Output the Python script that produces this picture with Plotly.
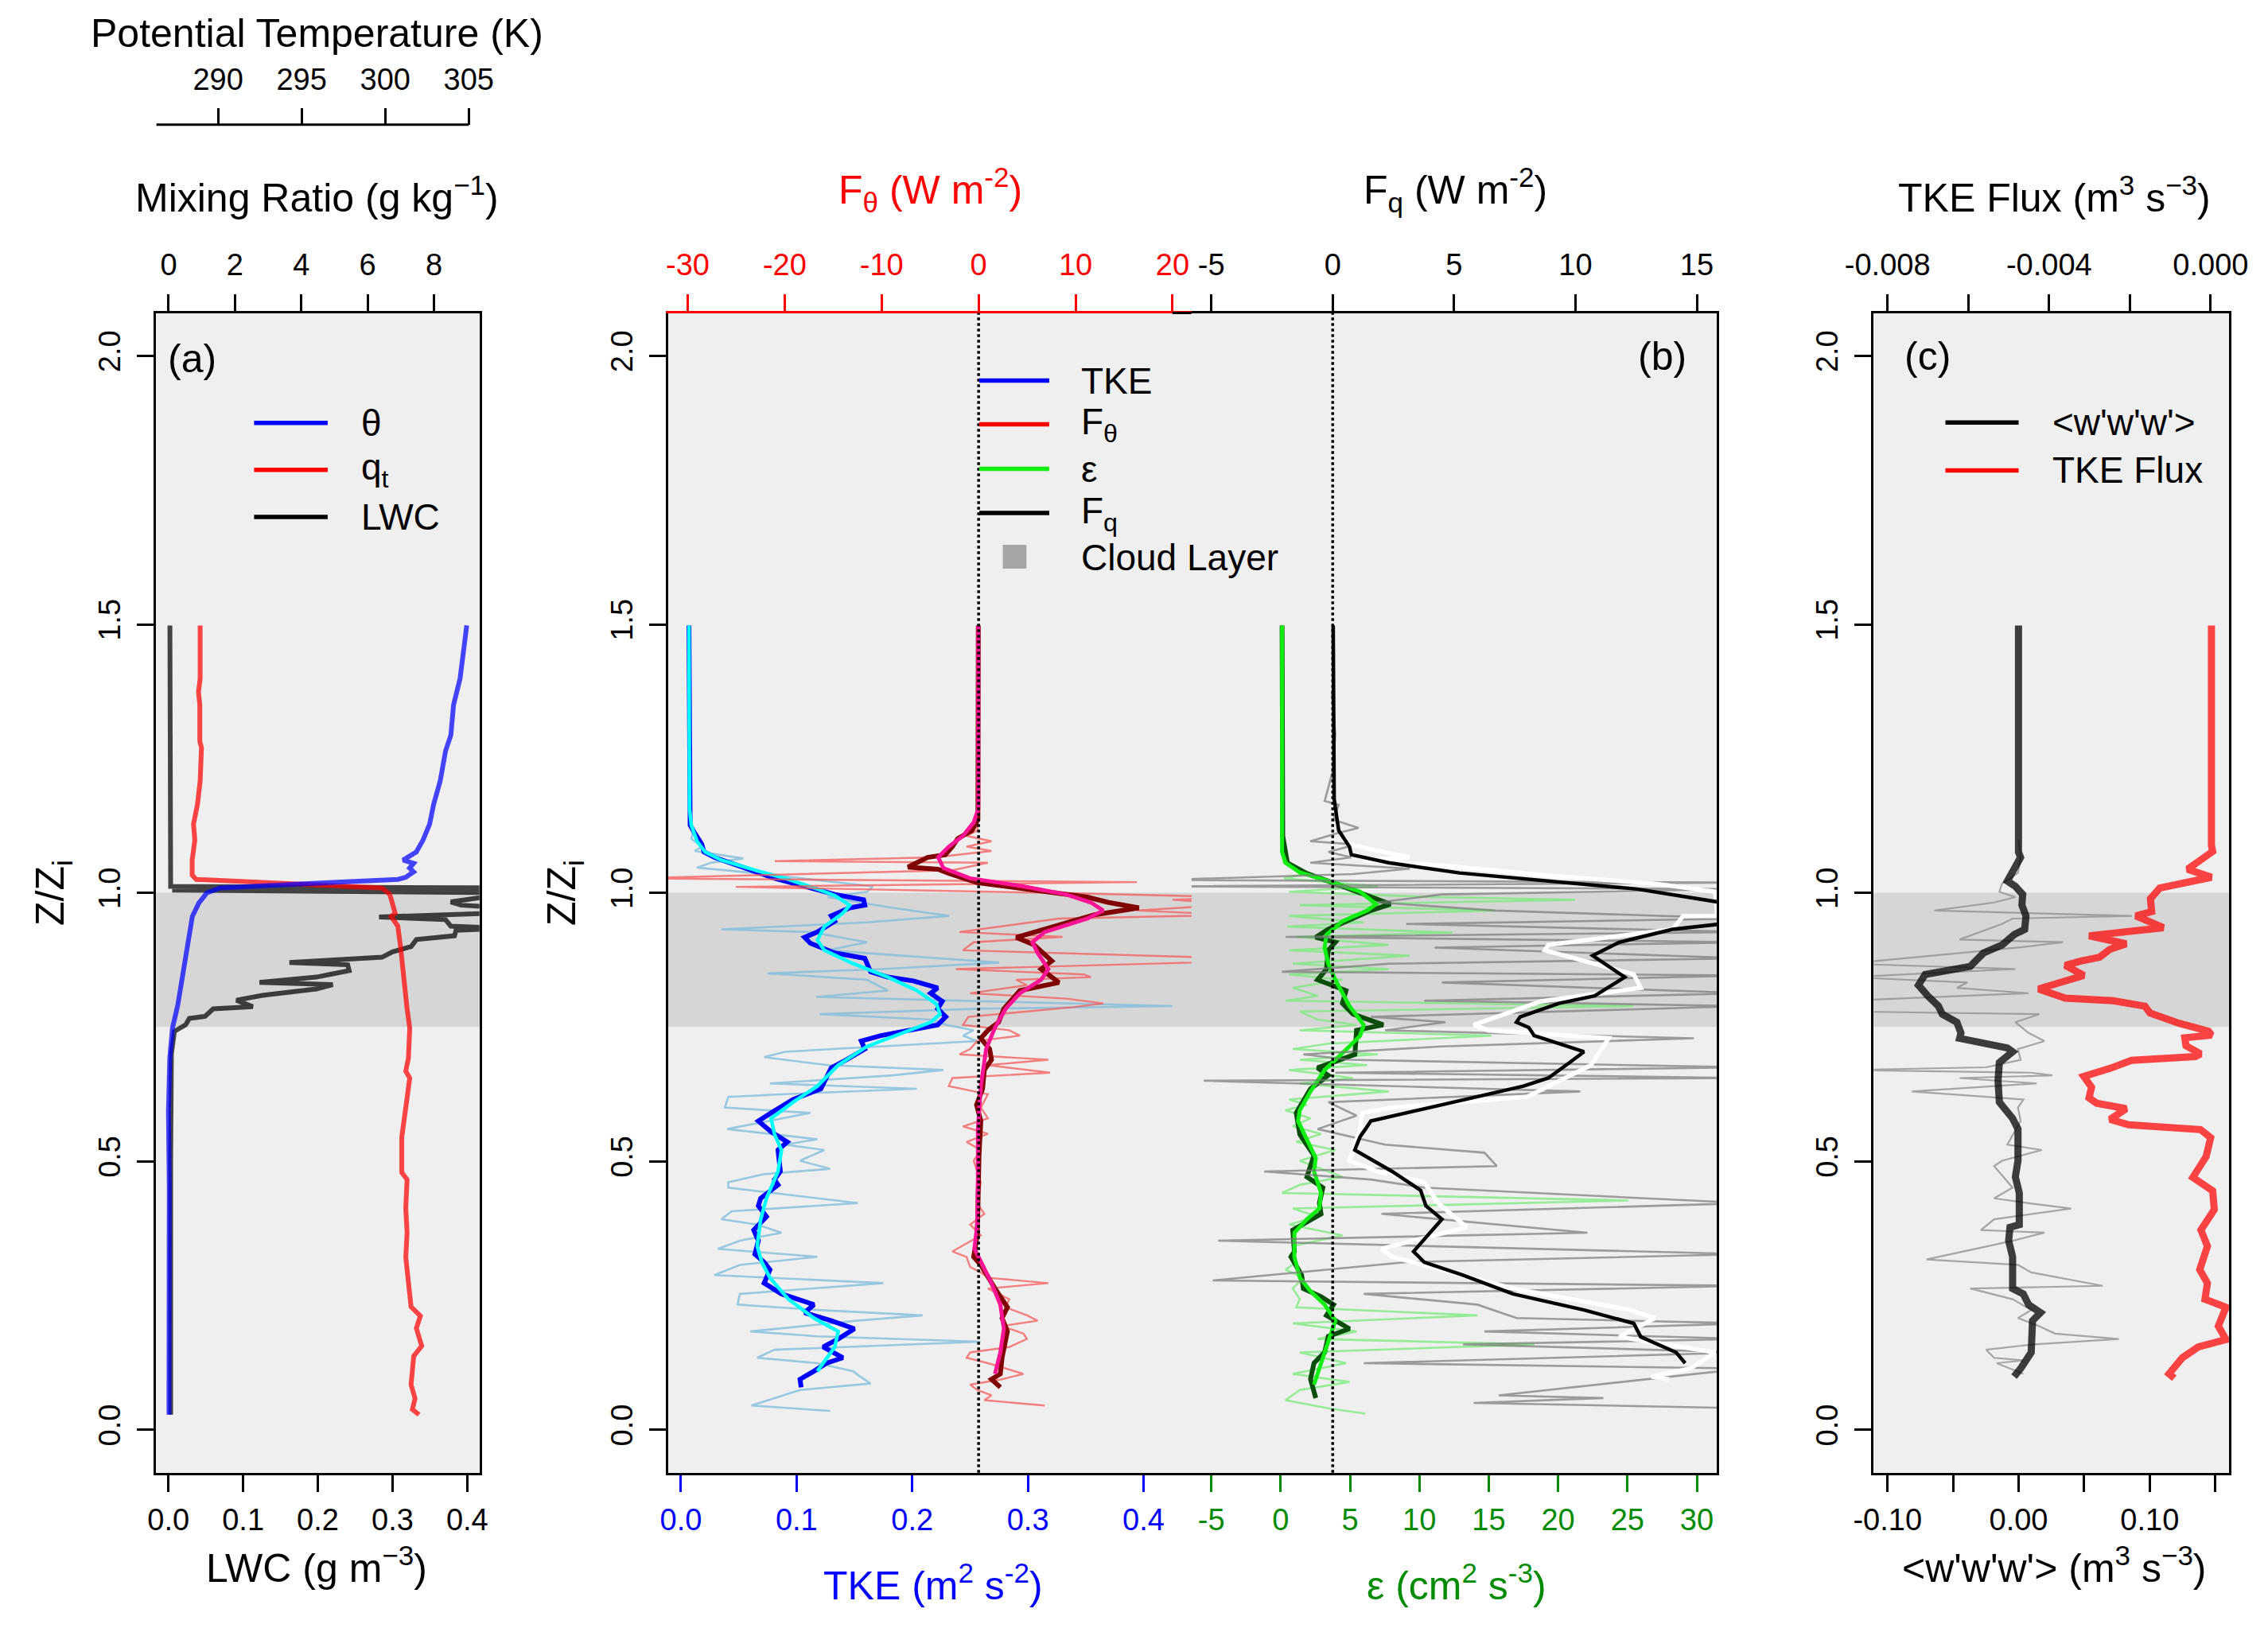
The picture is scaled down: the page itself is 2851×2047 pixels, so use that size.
import plotly.graph_objects as go

W, H = 2851, 2047


def fx(p):
    return p / W


def fy(p):
    return 1 - p / H


# ======================= DATA =======================
# ---- Panel (a): theta (K), qt (g/kg), LWC (g/m3) vs Z/Zi ----
theta_z = [1.498, 1.399, 1.350, 1.294, 1.264, 1.208, 1.165, 1.128, 1.098, 1.076,
           1.061, 1.055, 1.046, 1.039, 1.029, 1.025, 1.019, 1.013, 1.009, 1.000,
           0.981, 0.956, 0.938, 0.880, 0.791, 0.748, 0.692, 0.594, 0.45, 0.30,
           0.15, 0.028]
theta_k = [304.88, 304.48, 304.09, 303.93, 303.61, 303.29, 302.90, 302.66, 302.26, 301.86,
           301.07, 301.70, 301.46, 301.70, 301.23, 300.76, 296.63, 291.87, 290.12, 289.33,
           288.85, 288.46, 288.38, 288.06, 287.59, 287.27, 287.11, 287.03, 287.08, 287.06,
           287.08, 287.06]

qt_z = [1.498, 1.399, 1.374, 1.350, 1.282, 1.270, 1.208, 1.165, 1.128, 1.098,
        1.061, 1.033, 1.025, 1.018, 1.009, 0.997, 0.975, 0.962, 0.956, 0.938,
        0.901, 0.876, 0.827, 0.784, 0.748, 0.692, 0.668, 0.655, 0.618, 0.598,
        0.545, 0.479, 0.466, 0.413, 0.367, 0.321, 0.268, 0.229, 0.212, 0.189,
        0.156, 0.137, 0.084, 0.058, 0.038, 0.028]
qt_gkg = [0.95, 0.95, 0.90, 0.94, 0.94, 0.99, 0.95, 0.87, 0.75, 0.79,
          0.71, 0.71, 0.83, 3.23, 6.43, 6.67, 6.75, 6.83, 6.71, 6.91,
          6.99, 7.03, 7.11, 7.19, 7.27, 7.23, 7.15, 7.27, 7.19, 7.15,
          7.03, 7.03, 7.19, 7.15, 7.19, 7.15, 7.23, 7.31, 7.59, 7.47,
          7.63, 7.39, 7.31, 7.43, 7.35, 7.55]

lwc_z = [1.498, 1.012, 1.009, 1.005, 1.000, 0.983, 0.977, 0.972, 0.963, 0.955,
         0.950, 0.938, 0.934, 0.930, 0.920, 0.913, 0.900, 0.890, 0.880, 0.876,
         0.870, 0.866, 0.855, 0.848, 0.843, 0.833, 0.829, 0.821, 0.815, 0.809,
         0.800, 0.788, 0.784, 0.770, 0.766, 0.754, 0.742, 0.70, 0.50, 0.30,
         0.028]
lwc_gm3 = [0.002, 0.003, 0.46, 0.005, 0.46, 0.378, 0.392, 0.45, 0.45, 0.282,
           0.371, 0.378, 0.45, 0.385, 0.383, 0.332, 0.325, 0.300, 0.286, 0.240,
           0.162, 0.240, 0.242, 0.216, 0.198, 0.122, 0.220, 0.198, 0.162, 0.126,
           0.091, 0.113, 0.060, 0.049, 0.028, 0.023, 0.008, 0.004, 0.003, 0.003,
           0.003]

# ---- Panel (b) left: TKE (m2/s2) and F_theta (W/m2) ----
tke_raw_z = [1.136, 1.116, 1.101, 1.086, 1.078, 1.064, 1.056, 1.047, 1.037, 1.012,
             1.002, 0.992, 0.972, 0.957, 0.945, 0.932, 0.927, 0.908, 0.893, 0.870,
             0.858, 0.850, 0.838, 0.818, 0.806, 0.789, 0.784, 0.774, 0.764, 0.754,
             0.744, 0.734, 0.724, 0.704, 0.694, 0.679, 0.670, 0.660, 0.645, 0.635,
             0.625, 0.620, 0.600, 0.590, 0.560, 0.541, 0.531, 0.521, 0.501, 0.486,
             0.476, 0.461, 0.451, 0.431, 0.422, 0.407, 0.392, 0.382, 0.367, 0.352,
             0.337, 0.322, 0.307, 0.288, 0.273, 0.253, 0.233, 0.223, 0.213, 0.203,
             0.183, 0.174, 0.164, 0.149, 0.134, 0.124, 0.109, 0.099, 0.086, 0.074,
             0.045, 0.035]
tke_raw = [0.008, 0.011, 0.009, 0.018, 0.012, 0.054, 0.026, 0.014, 0.063, 0.166,
           0.161, 0.127, 0.183, 0.232, 0.161, 0.035, 0.112, 0.161, 0.127, 0.275,
           0.173, 0.075, 0.161, 0.179, 0.117, 0.425, 0.256, 0.120, 0.216, 0.230,
           0.253, 0.244, 0.256, 0.090, 0.072, 0.127, 0.227, 0.183, 0.077, 0.204,
           0.090, 0.041, 0.038, 0.112, 0.040, 0.118, 0.090, 0.124, 0.103, 0.129,
           0.072, 0.041, 0.041, 0.121, 0.153, 0.044, 0.035, 0.066, 0.087, 0.051,
           0.032, 0.118, 0.051, 0.029, 0.175, 0.051, 0.049, 0.118, 0.209, 0.152,
           0.060, 0.118, 0.259, 0.081, 0.066, 0.118, 0.149, 0.155, 0.164, 0.103,
           0.061, 0.129]

tke_med_z = [1.498, 1.136, 1.126, 1.111, 1.091, 1.076, 1.066, 1.027, 0.997, 0.987,
             0.977, 0.972, 0.957, 0.947, 0.927, 0.917, 0.906, 0.888, 0.878, 0.853,
             0.843, 0.836, 0.823, 0.813, 0.798, 0.784, 0.769, 0.754, 0.734, 0.724,
             0.709, 0.689, 0.674, 0.635, 0.615, 0.590, 0.575, 0.555, 0.536, 0.521,
             0.481, 0.466, 0.456, 0.431, 0.417, 0.397, 0.372, 0.352, 0.327, 0.312,
             0.298, 0.273, 0.253, 0.233, 0.218, 0.203, 0.188, 0.169, 0.154, 0.134,
             0.124, 0.109, 0.094, 0.079]
tke_med = [0.007, 0.0075, 0.008, 0.012, 0.018, 0.020, 0.029, 0.081, 0.133, 0.158,
           0.159, 0.146, 0.130, 0.133, 0.118, 0.107, 0.112, 0.133, 0.159, 0.164,
           0.179, 0.201, 0.222, 0.216, 0.226, 0.222, 0.229, 0.222, 0.173, 0.156,
           0.159, 0.143, 0.130, 0.121, 0.097, 0.078, 0.067, 0.078, 0.092, 0.084,
           0.086, 0.081, 0.084, 0.069, 0.067, 0.074, 0.063, 0.067, 0.064, 0.072,
           0.077, 0.072, 0.087, 0.115, 0.107, 0.130, 0.150, 0.136, 0.123, 0.140,
           0.126, 0.115, 0.103, 0.104]

tke_smooth_z = [1.498, 1.156, 1.126, 1.096, 1.076, 1.061, 1.041, 1.027, 1.007, 0.995,
                0.977, 0.962, 0.937, 0.912, 0.893, 0.868, 0.843, 0.818, 0.793, 0.774,
                0.759, 0.739, 0.714, 0.679, 0.640, 0.610, 0.580, 0.550, 0.521, 0.481,
                0.431, 0.392, 0.342, 0.312, 0.283, 0.243, 0.208, 0.183, 0.154, 0.109]
tke_smooth = [0.007, 0.0075, 0.009, 0.014, 0.021, 0.035, 0.066, 0.090, 0.118, 0.133,
              0.146, 0.140, 0.124, 0.118, 0.124, 0.149, 0.179, 0.204, 0.221, 0.224,
              0.216, 0.192, 0.161, 0.136, 0.118, 0.097, 0.078, 0.081, 0.087, 0.084,
              0.074, 0.069, 0.066, 0.070, 0.077, 0.093, 0.115, 0.136, 0.133, 0.118]

fth_raw_z = [1.126, 1.116, 1.106, 1.096, 1.086, 1.078, 1.066, 1.059, 1.056, 1.042,
             1.027, 1.020, 1.011, 0.999, 0.992, 0.987, 0.979, 0.967, 0.959, 0.952,
             0.927, 0.918, 0.908, 0.893, 0.878, 0.870, 0.858, 0.848, 0.843, 0.838,
             0.828, 0.813, 0.803, 0.794, 0.787, 0.769, 0.754, 0.744, 0.734, 0.724,
             0.709, 0.699, 0.689, 0.679, 0.665, 0.655, 0.640, 0.625, 0.600, 0.580,
             0.565, 0.551, 0.536, 0.521, 0.501, 0.461, 0.422, 0.402, 0.382, 0.362,
             0.332, 0.322, 0.303, 0.293, 0.283, 0.273, 0.263, 0.243, 0.228, 0.213,
             0.203, 0.193, 0.179, 0.169, 0.154, 0.144, 0.134, 0.124, 0.104, 0.094,
             0.084, 0.074, 0.064, 0.055, 0.045]
fth_raw = [-0.07, -0.14, -1.24, 1.33, -1.24, 1.33, -4.53, -21.02, 0.96, -2.70,
           -36.0, 16.34, -25.05, 10.1, 26.6, 20.0, 26.6, 16.34, 26.6, 8.28,
           -1.97, 8.65, -0.51, -1.61, 26.6, 21.84, -2.34, 10.85, 11.58, 3.89,
           4.99, -0.87, 9.02, 12.86, 9.75, -1.06, -1.61, 3.16, 4.26, -0.14,
           -0.87, -1.97, 7.19, 0.96, 7.37, -2.70, -3.07, 0.96, 0.23, 0.96,
           -1.61, 0.96, -1.24, 0.23, -0.51, 0.23, -0.14, 0.59, -0.87, 0.23,
           -2.70, -1.24, -0.87, 0.23, 0.96, 7.19, 0.96, 3.16, 2.79, 4.99,
           6.09, 2.42, 4.62, 4.99, 3.16, -0.87, -1.24, 0.96, 4.62, 2.42,
           -0.87, -0.14, 1.33, 0.59, 6.82]

fth_med_z = [1.498, 1.136, 1.116, 1.101, 1.086, 1.071, 1.066, 1.048, 1.044, 1.036,
             1.019, 1.007, 0.992, 0.982, 0.972, 0.959, 0.932, 0.917, 0.903, 0.873,
             0.858, 0.833, 0.818, 0.784, 0.759, 0.744, 0.729, 0.709, 0.689, 0.670,
             0.635, 0.605, 0.575, 0.511, 0.412, 0.362, 0.322, 0.307, 0.263, 0.228,
             0.208, 0.183, 0.134, 0.104, 0.094, 0.079]
fth_med = [-0.03, -0.07, -0.69, -2.15, -2.70, -3.44, -5.27, -7.28, -4.17, -3.07,
           -0.14, 4.62, 11.22, 13.41, 16.53, 11.95, 6.82, 3.89, 5.72, 7.55,
           6.45, 8.28, 4.26, 2.61, 2.06, 0.96, 0.23, 1.14, 1.33, 0.59,
           0.41, -0.21, 0.23, 0.04, -0.07, -0.14, -0.51, 0.23, 1.69, 2.97,
           2.42, 2.97, 2.42, 2.24, 1.33, 2.24]

fth_smooth_z = [1.498, 1.156, 1.131, 1.106, 1.086, 1.066, 1.046, 1.027, 1.012, 0.997,
                0.982, 0.967, 0.952, 0.927, 0.908, 0.888, 0.858, 0.838, 0.813, 0.784,
                0.749, 0.709, 0.640, 0.560, 0.461, 0.382, 0.337, 0.312, 0.273, 0.233,
                0.188, 0.144, 0.104]
fth_smooth = [-0.03, -0.03, -0.51, -1.61, -3.07, -4.17, -3.62, -0.87, 4.62, 9.02,
              11.58, 12.86, 11.22, 6.82, 5.54, 6.09, 7.19, 6.45, 4.26, 2.79,
              1.69, 0.78, 0.23, -0.07, -0.07, -0.14, -0.43, 0.23, 1.33, 2.24,
              2.61, 2.24, 1.69]

# ---- Panel (b) right: epsilon (cm2/s3) and F_q (W/m2) ----
eps_raw_z = [1.106, 1.056, 1.037, 1.027, 1.012, 1.002, 0.992, 0.987, 0.977, 0.967,
             0.957, 0.945, 0.937, 0.926, 0.918, 0.903, 0.893, 0.883, 0.868, 0.858,
             0.848, 0.838, 0.823, 0.808, 0.799, 0.789, 0.779, 0.764, 0.754, 0.744,
             0.734, 0.719, 0.709, 0.699, 0.689, 0.679, 0.670, 0.655, 0.645, 0.630,
             0.615, 0.605, 0.595, 0.580, 0.565, 0.551, 0.536, 0.521, 0.501, 0.471,
             0.456, 0.441, 0.427, 0.412, 0.397, 0.382, 0.362, 0.342, 0.312, 0.298,
             0.283, 0.263, 0.243, 0.228, 0.213, 0.198, 0.183, 0.169, 0.159, 0.144,
             0.124, 0.104, 0.089, 0.074, 0.055, 0.040, 0.030]
eps_raw = [0.10, 0.23, 2.15, 0.23, 7.01, 0.61, 11.11, 21.22, 1.38, 15.46,
           0.61, 5.99, 0.48, 12.39, 1.12, 7.78, 0.61, 9.31, 0.87, 7.78,
           0.61, 4.45, 0.87, 2.66, 0.35, 25.44, 1.38, 2.66, 5.47, 1.38,
           15.20, 3.43, 0.87, 7.01, 1.38, 6.24, 0.61, 5.22, 1.38, 7.78,
           0.61, 1.89, 0.35, 2.15, 0.87, 2.91, 1.12, 3.94, 1.38, 4.45,
           1.38, 0.10, 25.06, 0.87, 2.66, 0.61, 4.45, 0.87, 1.12, 0.35,
           1.63, 0.87, 1.38, 1.12, 14.18, 0.87, 5.47, 2.66, 18.28, 1.38,
           4.71, 0.87, 4.96, 1.38, 0.35, 3.43, 6.11]

eps_med_z = [1.498, 1.106, 1.056, 1.036, 1.017, 0.997, 0.979, 0.967, 0.947, 0.932,
             0.917, 0.908, 0.893, 0.858, 0.838, 0.818, 0.794, 0.774, 0.754, 0.744,
             0.699, 0.674, 0.660, 0.635, 0.590, 0.550, 0.511, 0.471, 0.451, 0.422,
             0.402, 0.372, 0.332, 0.322, 0.288, 0.263, 0.248, 0.233, 0.213, 0.188,
             0.174, 0.144, 0.124, 0.094, 0.059]
eps_med = [0.10, 0.15, 0.48, 1.89, 3.94, 5.99, 7.91, 6.50, 4.71, 3.43,
           2.53, 3.94, 3.43, 3.30, 2.66, 4.71, 4.45, 5.22, 7.39, 5.47,
           5.35, 2.66, 3.43, 2.15, 1.12, 1.38, 2.40, 1.89, 3.04, 2.79,
           2.91, 0.87, 0.99, 0.74, 1.51, 1.63, 2.91, 3.81, 3.30, 4.96,
           3.43, 3.17, 2.40, 2.15, 2.53]

eps_smooth_z = [1.498, 1.076, 1.056, 1.038, 1.022, 1.002, 0.979, 0.967, 0.947, 0.922,
                0.898, 0.868, 0.838, 0.789, 0.754, 0.734, 0.714, 0.689, 0.670, 0.630,
                0.595, 0.575, 0.541, 0.506, 0.481, 0.441, 0.412, 0.392, 0.367, 0.322,
                0.283, 0.258, 0.233, 0.203, 0.164, 0.144, 0.084]
eps_smooth = [0.10, 0.10, 0.35, 1.38, 3.43, 5.73, 6.88, 6.24, 4.45, 3.30,
              3.17, 3.43, 3.94, 4.96, 5.99, 5.73, 4.96, 3.94, 3.17, 2.15,
              1.38, 1.25, 1.89, 2.53, 2.40, 2.91, 2.79, 1.89, 0.99, 0.99,
              1.38, 2.15, 3.17, 3.94, 3.43, 3.17, 2.40]

fq_raw_z = [1.374, 1.295, 1.225, 1.171, 1.164, 1.136, 1.121, 1.111, 1.096, 1.090,
            1.076, 1.066, 1.056, 1.045, 1.035, 1.024, 1.019, 1.012, 1.007, 0.997,
            0.982, 0.967, 0.952, 0.942, 0.927, 0.918, 0.908, 0.898, 0.878, 0.868,
            0.853, 0.846, 0.833, 0.813, 0.799, 0.789, 0.769, 0.759, 0.744, 0.729,
            0.714, 0.699, 0.689, 0.675, 0.665, 0.655, 0.650, 0.630, 0.610, 0.585,
            0.560, 0.531, 0.516, 0.491, 0.481, 0.466, 0.451, 0.422, 0.402, 0.367,
            0.352, 0.327, 0.312, 0.278, 0.268, 0.253, 0.233, 0.208, 0.198, 0.183,
            0.169, 0.159, 0.144, 0.124, 0.114, 0.064, 0.059, 0.050, 0.040]
fq_raw = [-0.04, 0.11, -0.01, -0.33, 0.25, 0.03, 1.06, 0.18, -0.92, 0.98,
          -0.18, 0.77, -0.92, 3.18, 0.84, -7.0, 17.0, -7.0, 17.0, 4.50,
          1.86, 6.69, 17.0, 3.03, 17.0, -1.94, 17.0, 4.20, 17.0, 2.30,
          -2.09, 17.0, 4.50, 17.0, 3.77, 17.0, 1.57, 4.64, 2.16, 14.88,
          4.50, -1.21, 0.69, 17.0, 0.11, 17.0, -5.31, 10.20, -0.18, 0.98,
          -0.62, 2.16, 6.25, 6.76, -2.82, 1.57, 3.77, 17.0, 2.01, 10.49,
          -4.72, 17.0, 3.03, -4.94, 17.0, 1.28, 5.96, 7.57, 17.0, 6.25,
          17.0, 5.37, 17.0, 1.28, 17.0, 6.84, 11.15, 5.81, 17.0]

fq_med_z = [1.106, 1.091, 1.081, 1.066, 1.061, 1.051, 1.032, 1.017, 1.002, 0.957,
            0.957, 0.932, 0.903, 0.893, 0.848, 0.823, 0.798, 0.754, 0.744, 0.729,
            0.679, 0.620, 0.600, 0.590, 0.560, 0.501, 0.481, 0.461, 0.422, 0.377,
            0.337, 0.322, 0.263, 0.223, 0.208, 0.173, 0.144, 0.114, 0.099, 0.094]
fq_med = [0.30, 0.69, 1.57, 3.18, 1.28, 4.50, 8.90, 13.30, 15.76, 15.84,
          14.44, 14.00, 8.88, 8.74, 12.40, 12.69, 8.59, 5.81, 6.40, 11.37,
          10.64, 8.01, 2.45, 1.21, 1.13, 0.69, 1.86, 3.77, 4.35, 5.52,
          2.01, 2.45, 7.42, 12.25, 13.27, 11.81, 15.76, 14.74, 13.13, 13.86]

fq_smooth_z = [1.498, 1.354, 1.175, 1.136, 1.116, 1.101, 1.086, 1.071, 1.056, 1.037,
               1.022, 1.007, 0.982, 0.962, 0.942, 0.932, 0.908, 0.883, 0.843, 0.808,
               0.794, 0.769, 0.759, 0.749, 0.734, 0.704, 0.684, 0.655, 0.640, 0.620,
               0.575, 0.560, 0.546, 0.521, 0.481, 0.446, 0.417, 0.392, 0.332, 0.312,
               0.288, 0.253, 0.223, 0.198, 0.173, 0.144, 0.124]
fq_smooth = [0.02, 0.03, 0.06, 0.18, 0.25, 0.47, 0.69, 0.77, 2.30, 5.23,
             8.88, 12.54, 16.0, 16.5, 16.0, 14.0, 11.81, 10.71, 12.03, 10.79,
             9.32, 7.72, 7.57, 8.08, 8.30, 10.35, 9.76, 8.88, 7.86, 5.96,
             1.57, 1.35, 1.13, 0.91, 2.45, 3.62, 3.84, 4.50, 3.33, 3.77,
             5.37, 7.42, 10.35, 12.40, 12.69, 14.15, 14.52]

# ---- Panel (c): <w'w'w'> (m3/s3) and TKE flux (m3/s3) ----
w3_raw_z = [1.100, 1.066, 1.037, 1.017, 1.002, 0.992, 0.982, 0.967, 0.957, 0.952,
            0.942, 0.913, 0.908, 0.898, 0.868, 0.858, 0.843, 0.833, 0.823, 0.813,
            0.799, 0.779, 0.774, 0.759, 0.739, 0.724, 0.709, 0.689, 0.675, 0.670,
            0.665, 0.660, 0.655, 0.645, 0.630, 0.615, 0.600, 0.575, 0.531, 0.521,
            0.501, 0.491, 0.451, 0.431, 0.422, 0.412, 0.392, 0.372, 0.367, 0.352,
            0.317, 0.307, 0.293, 0.268, 0.263, 0.243, 0.223, 0.208, 0.193, 0.179,
            0.169, 0.159, 0.149, 0.134, 0.129, 0.124, 0.104]
w3_raw = [0.000, 0.0015, -0.0005, -0.0127, -0.0147, -0.0025, -0.0187, -0.0643, 0.0865, -0.0046,
          -0.0127, -0.0450, 0.0339, -0.0005, -0.13, -0.0025, -0.13, -0.0390, -0.0470, 0.0076,
          -0.13, -0.13, 0.0157, -0.0025, 0.0076, 0.0197, -0.0005, 0.0015, -0.0248, -0.13,
          0.0096, 0.0258, -0.0450, 0.0137, -0.0814, 0.0036, -0.0005, 0.0015, -0.0086, 0.0177,
          -0.0127, -0.0187, -0.0046, -0.0187, 0.0076, 0.0400, -0.0187, -0.0288, 0.0197, -0.0046,
          -0.0703, -0.0005, 0.0096, 0.0642, -0.0369, -0.0046, 0.0096, -0.0005, 0.0157, 0.0278,
          0.0764, 0.0116, -0.0248, -0.0187, 0.0036, -0.0167, 0.0036]

w3_z = [1.498, 1.076, 1.066, 1.046, 1.022, 1.012, 0.997, 0.977, 0.957, 0.932,
        0.922, 0.903, 0.888, 0.873, 0.863, 0.848, 0.828, 0.808, 0.789, 0.774,
        0.759, 0.739, 0.729, 0.711, 0.704, 0.684, 0.650, 0.610, 0.590, 0.580,
        0.560, 0.501, 0.471, 0.441, 0.382, 0.377, 0.352, 0.322, 0.263, 0.253,
        0.233, 0.218, 0.203, 0.144, 0.114, 0.099]
w3 = [-0.0001, -0.0001, 0.0015, -0.0035, -0.0086, -0.0025, 0.0031, 0.0025, 0.0056, 0.0046,
      -0.0035, -0.0126, -0.0268, -0.0329, -0.0369, -0.0713, -0.0764, -0.0693, -0.0612, -0.0582,
      -0.0471, -0.0440, -0.0450, -0.0086, -0.0046, -0.0147, -0.0157, -0.0147, -0.0086, -0.0046,
      -0.0005, -0.0005, -0.0025, 0.0005, 0.0005, -0.0066, -0.0076, -0.0046, -0.0046, 0.0035,
      0.0076, 0.0167, 0.0106, 0.0096, 0.0015, -0.0035]

tkeflux_z = [1.498, 1.314, 1.116, 1.088, 1.077, 1.044, 1.029, 1.009, 0.989, 0.965,
             0.957, 0.935, 0.920, 0.905, 0.895, 0.880, 0.873, 0.865, 0.846, 0.821,
             0.804, 0.799, 0.789, 0.776, 0.757, 0.742, 0.735, 0.730, 0.715, 0.700,
             0.695, 0.688, 0.673, 0.658, 0.638, 0.618, 0.608, 0.598, 0.578, 0.568,
             0.559, 0.544, 0.509, 0.470, 0.445, 0.410, 0.372, 0.342, 0.298, 0.273,
             0.243, 0.228, 0.193, 0.168, 0.154, 0.134, 0.104, 0.096]
tkeflux = [0.00002, 0.00002, -0.00001, 0.00002, 0.00005, -0.00057, 0.00002, -0.00126, -0.00149, -0.00146,
           -0.00185, -0.00117, -0.00301, -0.00209, -0.00249, -0.00275, -0.00321, -0.00360, -0.00314, -0.00426,
           -0.00360, -0.00242, -0.00163, -0.00150, -0.00078, -0.00005, 0.00002, -0.00064, -0.00061, -0.00025,
           -0.00038, -0.00196, -0.00249, -0.00314, -0.00295, -0.00301, -0.00282, -0.00209, -0.00249, -0.00203,
           -0.00025, 0.00000, -0.00011, -0.00044, 0.00005, 0.00009, -0.00024, -0.00008, -0.00027, -0.00008,
           -0.00014, 0.00038, 0.00019, 0.00038, -0.00031, -0.00070, -0.00103, -0.00090]

# cloud layer bounds (Z/Zi)
cloud_base, cloud_top = 0.75, 1.0

# ---- tick values / labels ----
z_ticks = [0, 0.5, 1.0, 1.5, 2.0]
z_labels = ["0.0", "0.5", "1.0", "1.5", "2.0"]
lwc_ticks = [0, 0.1, 0.2, 0.3, 0.4]
lwc_labels = ["0.0", "0.1", "0.2", "0.3", "0.4"]
mr_ticks = [0, 2, 4, 6, 8]
mr_labels = ["0", "2", "4", "6", "8"]
pt_ticks = [290, 295, 300, 305]
pt_labels = ["290", "295", "300", "305"]
tke_ticks = [0, 0.1, 0.2, 0.3, 0.4]
tke_labels = ["0.0", "0.1", "0.2", "0.3", "0.4"]
fth_ticks = [-30, -20, -10, 0, 10, 20]
fth_labels = ["-30", "-20", "-10", "0", "10", "20"]
eps_ticks = [-5, 0, 5, 10, 15, 20, 25, 30]
eps_labels = ["-5", "0", "5", "10", "15", "20", "25", "30"]
fq_ticks = [-5, 0, 5, 10, 15]
fq_labels = ["-5", "0", "5", "10", "15"]
w3_ticks = [-0.10, 0.0, 0.10]
w3_labels = ["-0.10", "0.00", "0.10"]
w3_minor = [-0.05, 0.05, 0.15]
tf_ticks = [-0.008, -0.004, 0.0]
tf_labels = ["-0.008", "-0.004", "0.000"]
tf_minor = [-0.006, -0.002]

# ======================= FIGURE =======================
FONT = "Liberation Sans, Arial, Helvetica, sans-serif"
TICK = 38
TITLE = 50
LEG = 46
BLUE = "#0000FF"
RED = "#FF0000"
GREEN_TXT = "#008B00"

fig = go.Figure()


def add(x, y, xa, ya, color, width):
    fig.add_trace(go.Scatter(x=x, y=y, xaxis=xa, yaxis=ya, mode="lines",
                             line=dict(color=color, width=width),
                             hoverinfo="skip", showlegend=False))


# panel (a)
add(theta_k, theta_z, "x3", "y", "rgba(0,0,255,0.72)", 6)
add(qt_gkg, qt_z, "x2", "y", "rgba(255,0,0,0.72)", 6)
add(lwc_gm3, lwc_z, "x", "y", "rgba(0,0,0,0.72)", 6)

# panel (b) left
add(fth_raw, fth_raw_z, "x5", "y2", "rgba(245,90,90,0.75)", 2.4)
add(tke_raw, tke_raw_z, "x4", "y2", "rgba(130,190,220,0.8)", 2.6)
add(tke_med, tke_med_z, "x4", "y2", BLUE, 6)
add(fth_med, fth_med_z, "x5", "y2", "#800000", 6)
add(tke_smooth, tke_smooth_z, "x4", "y2", "#00FFFF", 4.5)
add(fth_smooth, fth_smooth_z, "x5", "y2", "#FF1493", 5)

# panel (b) right
add(eps_raw, eps_raw_z, "x6", "y3", "rgba(120,235,120,0.75)", 2.6)
add(fq_raw, fq_raw_z, "x7", "y3", "rgba(120,120,120,0.7)", 2.6)
add(fq_med, fq_med_z, "x7", "y3", "#FFFFFF", 5.5)
add(fq_smooth, fq_smooth_z, "x7", "y3", "#000000", 4.5)
add(eps_med, eps_med_z, "x6", "y3", "#0B4D0B", 6)
add(eps_smooth, eps_smooth_z, "x6", "y3", "#11EE11", 5)

# panel (c)
add(w3_raw, w3_raw_z, "x8", "y4", "rgba(140,140,140,0.75)", 2.2)
add(w3, w3_z, "x8", "y4", "rgba(0,0,0,0.75)", 9)
add(tkeflux, tkeflux_z, "x9", "y4", "rgba(255,0,0,0.72)", 9)

# ---- axes ----
zr = [-0.08, 2.08]
ydom = [fy(1851.7), fy(393.5)]
dom_a = [fx(196.4), fx(602.7)]
dom_b1 = [fx(839.7), fx(1497.8)]
dom_b2 = [fx(1497.8), fx(2157.9)]
dom_c = [fx(2355.4), fx(2801.9)]


def axis(**kw):
    base = dict(showgrid=False, zeroline=False, ticks="outside", ticklen=21,
                tickwidth=2.5, tickcolor="black", showline=True, linecolor="black",
                linewidth=3, tickfont=dict(family=FONT, size=TICK, color="black"),
                fixedrange=True, automargin=False, ticklabelstandoff=3)
    if kw.get("side") == "top":
        base["ticklabelstandoff"] = 8
    base.update(kw)
    return base


def minor(vals):
    return dict(tickvals=vals, ticks="outside", ticklen=21, tickwidth=2.5,
                tickcolor="black", showgrid=False)


def yax(**kw):
    d = axis(domain=ydom, range=zr, tickvals=z_ticks, ticktext=z_labels,
             tickangle=-90, ticklabelstandoff=6)
    d.update(kw)
    return d


fig.update_layout(
    width=W, height=H, autosize=False,
    margin=dict(l=0, r=0, t=0, b=0, pad=0, autoexpand=False),
    paper_bgcolor="white", plot_bgcolor="#EFEFEF",
    showlegend=False,
    font=dict(family=FONT, size=TICK, color="black"),
    # panel (a)
    xaxis=axis(domain=dom_a, anchor="y", range=[-0.0163, 0.4164],
               tickvals=lwc_ticks, ticktext=lwc_labels),
    xaxis2=axis(overlaying="x", side="top", anchor="y", range=[-0.374, 9.372],
                tickvals=mr_ticks, ticktext=mr_labels),
    xaxis3=axis(overlaying="x", side="top", anchor="free", position=fy(156.7),
                range=[286.30, 305.64], tickvals=pt_ticks, ticktext=pt_labels,
                showline=False),
    yaxis=yax(anchor="x", mirror=True),
    # panel (b) left
    xaxis4=axis(domain=dom_b1, anchor="y2", range=[-0.01114, 0.44147],
                tickvals=tke_ticks, ticktext=tke_labels, tickcolor=BLUE,
                tickfont=dict(family=FONT, size=TICK, color=BLUE)),
    xaxis5=axis(overlaying="x4", side="top", anchor="y2", range=[-32.035, 21.96],
                tickvals=fth_ticks, ticktext=fth_labels, tickcolor=RED, linecolor=RED,
                tickfont=dict(family=FONT, size=TICK, color=RED)),
    yaxis2=yax(anchor="x4"),
    # panel (b) right
    xaxis6=axis(domain=dom_b2, anchor="y3", range=[-6.428, 31.428],
                tickvals=eps_ticks, ticktext=eps_labels, tickcolor=GREEN_TXT,
                tickfont=dict(family=FONT, size=TICK, color=GREEN_TXT)),
    xaxis7=axis(overlaying="x6", side="top", anchor="y3", range=[-5.816, 15.816],
                tickvals=fq_ticks, ticktext=fq_labels),
    yaxis3=yax(anchor="x6", side="right", ticks="", showticklabels=False),
    # panel (c)
    xaxis8=axis(domain=dom_c, anchor="y4", range=[-0.1105, 0.1604],
                tickvals=w3_ticks, ticktext=w3_labels, minor=minor(w3_minor)),
    xaxis9=axis(overlaying="x8", side="top", anchor="y4", range=[-0.008341, 0.000453],
                tickvals=tf_ticks, ticktext=tf_labels, minor=minor(tf_minor)),
    yaxis4=yax(anchor="x8", mirror=True),
)

# ---- shapes ----
shapes = []
for (d, yref) in [(dom_a, "y"), ([dom_b1[0], dom_b2[1]], "y2"), (dom_c, "y4")]:
    shapes.append(dict(type="rect", xref="paper", yref=yref, x0=d[0], x1=d[1],
                       y0=cloud_base, y1=cloud_top, fillcolor="#D6D6D6",
                       line=dict(width=0), layer="below"))
# zero reference lines for F_theta and F_q
for xr in ["x5", "x7"]:
    shapes.append(dict(type="line", xref=xr, yref="paper", x0=0, x1=0,
                       y0=ydom[0], y1=ydom[1],
                       line=dict(color="black", width=3.5, dash="dot"), layer="above"))
# potential temperature axis line (from panel edge to last tick)
shapes.append(dict(type="line", xref="x3", yref="paper", x0=286.30, x1=305,
                   y0=fy(156.7), y1=fy(156.7), line=dict(color="black", width=3)))
# black frame segment right of the red F_theta axis line
shapes.append(dict(type="line", xref="x5", yref="paper", x0=20, x1=21.96,
                   y0=ydom[1], y1=ydom[1], line=dict(color="black", width=3),
                   layer="above"))


def leg_line(x0, x1, y, color):
    shapes.append(dict(type="line", xref="paper", yref="paper", x0=fx(x0), x1=fx(x1),
                       y0=fy(y), y1=fy(y), line=dict(color=color, width=5.5),
                       layer="above"))


leg_line(319.4, 411.9, 531.7, BLUE)
leg_line(319.4, 411.9, 590.7, RED)
leg_line(319.4, 411.9, 650.0, "black")
leg_line(1231, 1319, 478.5, BLUE)
leg_line(1231, 1319, 533.6, RED)
leg_line(1231, 1319, 589.5, "#11EE11")
leg_line(1231, 1319, 645.0, "black")
shapes.append(dict(type="rect", xref="paper", yref="paper", x0=fx(1260.6), x1=fx(1290.3),
                   y0=fy(715), y1=fy(685), fillcolor="#A6A6A6", line=dict(width=0),
                   layer="above"))
leg_line(2445.5, 2537.5, 531.3, "black")
leg_line(2445.5, 2537.5, 591.4, RED)
fig.update_layout(shapes=shapes)

# ---- annotations ----
ann = []


def txt(x, y, s, size=TITLE, color="black", xanchor="center", angle=0):
    ann.append(dict(x=fx(x), y=fy(y), xref="paper", yref="paper", text=s,
                    showarrow=False, xanchor=xanchor, yanchor="middle",
                    textangle=angle, font=dict(family=FONT, size=size, color=color)))


txt(398, 42, "Potential Temperature (K)")
txt(398, 245, "Mixing Ratio (g kg<sup>\u22121</sup>)")
txt(398, 1968, "LWC (g m<sup>\u22123</sup>)")
txt(1169, 238, "F<sub>\u03b8</sub> (W m<sup>-2</sup>)", color=RED)
txt(1829, 238, "F<sub>q</sub> (W m<sup>-2</sup>)")
txt(1173, 1990, "TKE (m<sup>2</sup> s<sup>-2</sup>)", color=BLUE)
txt(1831, 1990, "\u03b5 (cm<sup>2</sup> s<sup>-3</sup>)", color=GREEN_TXT)
txt(2582, 245, "TKE Flux (m<sup>3</sup> s<sup>\u22123</sup>)")
txt(2582, 1968, "&lt;w'w'w'&gt; (m<sup>3</sup> s<sup>\u22123</sup>)")
txt(66, 1123, "Z/Z<sub>i</sub>", angle=-90)
txt(709, 1123, "Z/Z<sub>i</sub>", angle=-90)
txt(242, 451, "(a)")
txt(2089, 448, "(b)")
txt(2423, 448, "(c)")
# legends
txt(452, 531.7, "\u03b8", size=LEG, xanchor="left")
txt(452, 590.7, "q<sub>t</sub>", size=LEG, xanchor="left")
txt(452, 650.0, "LWC", size=LEG, xanchor="left")
txt(1357, 478.5, "TKE", size=LEG, xanchor="left")
txt(1357, 533.6, "F<sub>\u03b8</sub>", size=LEG, xanchor="left")
txt(1357, 589.5, "\u03b5", size=LEG, xanchor="left")
txt(1357, 645.0, "F<sub>q</sub>", size=LEG, xanchor="left")
txt(1357, 700.5, "Cloud Layer", size=LEG, xanchor="left")
txt(2578, 531.3, "&lt;w'w'w'&gt;", size=LEG, xanchor="left")
txt(2578, 591.4, "TKE Flux", size=LEG, xanchor="left")
fig.update_layout(annotations=ann)

fig.write_html("out.html", post_script="document.body.style.margin='0';",
               config={"displayModeBar": False})
